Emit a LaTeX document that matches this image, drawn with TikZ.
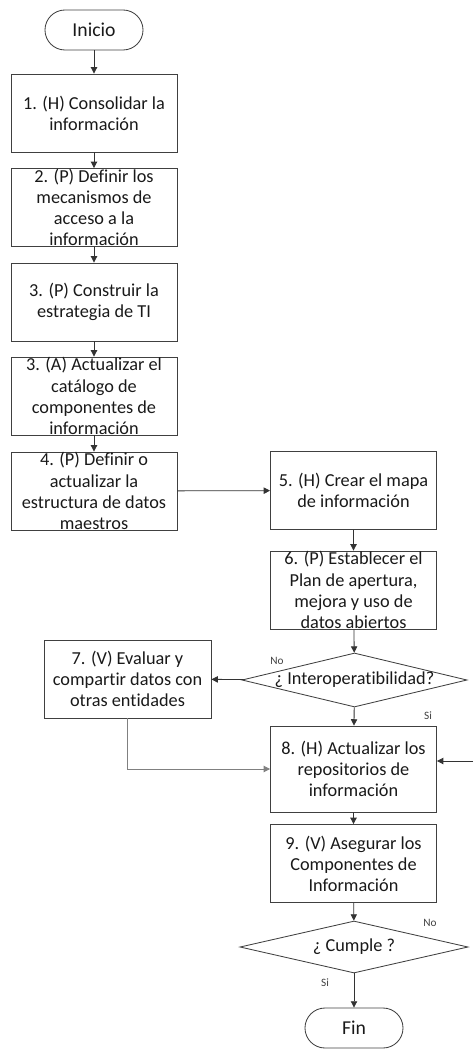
\documentclass[tikz,border=0pt]{standalone}
\usepackage{fontspec}
\setmainfont{Carlito}[Ligatures=NoCommon]
\usetikzlibrary{shapes.geometric,arrows.meta}

\newcommand{\celda}[1]{\parbox[c][1.5cm][c]{4.1cm}{\centering #1}}

\begin{document}
\begin{tikzpicture}[x=0.025cm, y=-0.025cm, line width=0.6pt,
    caja/.style={draw=black!75, minimum width=4.15cm, minimum height=1.95cm,
      inner sep=0pt, font=\fontsize{13}{15}\selectfont, text=black!90},
    term/.style={caja, minimum width=2.45cm, minimum height=1cm, rounded corners=0.5cm,
      font=\fontsize{14}{16}\selectfont},
    decision/.style={draw=black!75, diamond, inner sep=0pt},
    flecha/.style={draw=black!80, -{Triangle[width=4.5pt,length=4.5pt]}},
    etiq/.style={font=\fontsize{8}{9}\selectfont, text=black!75}]

  \useasboundingbox (0,0) rectangle (473,1049);

  % columna izquierda
  \node[term] (inicio) at (94,30) {Inicio};
  \node[caja] (b1) at (94,113) {\celda{1. (H) Consolidar la\\información}};
  \node[caja] (b2) at (94,207.5) {\celda{2. (P) Definir los\\mecanismos de\\acceso a la\\información}};
  \node[caja] (b3) at (94,302) {\celda{3. (P) Construir la\\estrategia de TI}};
  \node[caja] (b3a) at (94,396) {\celda{3. (A) Actualizar el\\catálogo de\\componentes de\\información}};
  \node[caja] (b4) at (94,491) {\celda{4. (P) Definir o\\actualizar la\\estructura de datos\\maestros}};
  \node[caja, minimum width=4.175cm] (b7) at (127.5,679) {\celda{7. (V) Evaluar y\\compartir datos con\\otras entidades}};

  % columna derecha
  \node[caja] (b5) at (353.5,490.5) {\celda{5. (H) Crear el mapa\\de información}};
  \node[caja] (b6) at (353.5,590) {\celda{6. (P) Establecer el\\Plan de apertura,\\mejora y uso de\\datos abiertos}};
  \node[decision, minimum width=5.625cm, minimum height=1.35cm,
    label={[font=\fontsize{13}{15}\selectfont, text=black!90]center:¿ Interoperatibilidad?}] (inter) at (354.5,680) {};
  \node[caja, minimum height=2.15cm] (b8) at (353.5,769) {\celda{8. (H) Actualizar los\\repositorios de\\información}};
  \node[caja] (b9) at (353.5,863.5) {\celda{9. (V) Asegurar los\\Componentes de\\Información}};
  \node[decision, minimum width=5.7cm, minimum height=1.3cm,
    label={[font=\fontsize{13}{15}\selectfont, text=black!90]center:¿ Cumple ?}] (cumple) at (354,947) {};
  \node[term] (fin) at (354,1028) {Fin};

  \node[etiq] (no1) at (277,661) {No};
  \node[etiq] (si1) at (428,716) {Si};
  \node[etiq] (no2) at (430,923) {No};
  \node[etiq] (si2) at (325,983) {Si};
  \coordinate (ret) at (473,761);

  \draw[flecha] (inicio) -- (b1);
  \draw[flecha] (b1) -- (b2);
  \draw[flecha] (b2) -- (b3);
  \draw[flecha] (b3) -- (b3a);
  \draw[flecha] (b3a) -- (b4);
  \draw[flecha] (b4) -- (b5);
  \draw[flecha] (b5) -- (b6);
  \draw[flecha] (b6) -- (inter);
  \draw[flecha] (inter) -- (b7);
  \draw[flecha] (inter) -- (b8);
  \draw[flecha, draw=black!50] (b7) |- (b8);
  \draw[flecha] (ret) -- (ret -| b8.east);
  \draw[flecha] (b8) -- (b9);
  \draw[flecha] (b9) -- (cumple);
  \draw[flecha] (cumple) -- (fin);
\end{tikzpicture}
\end{document}
